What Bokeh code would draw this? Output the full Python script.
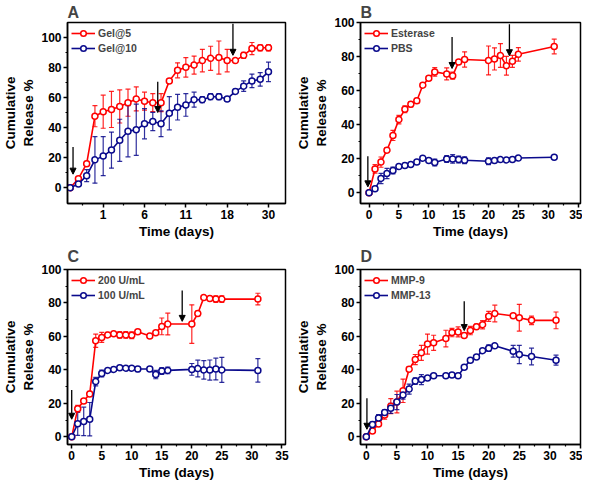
from bokeh.plotting import figure
from bokeh.layouts import gridplot
from bokeh.models import (Range1d, FixedTicker, Whisker, ColumnDataSource, Arrow,
                          NormalHead, TeeHead)
from bokeh.embed import file_html
from bokeh.resources import INLINE

RED = "#ff0000"
NAVY = "#0a0a8c"
FONT = "Liberation Sans"

# ---------------- Panel A (x = sampling index, labelled in days) ----------------
a_x = list(range(25))
a_tick_pos = [4, 9, 14, 19, 24]
a_tick_labels = ["1", "6", "11", "18", "30"]
a_gel5 = [0, 6, 16, 47.5, 50.5, 52, 54, 56.5, 59, 57.5, 56.5, 56.5, 71, 78, 80, 81.5,
          84.5, 86, 86.5, 84.5, 84.5, 88, 92.5, 93, 93]
a_gel5_err = [0, 1, 1.5, 7, 11, 12, 11, 9, 8, 6, 6, 6, 1.5, 5, 6.5, 6, 7.5, 8, 11, 7.5,
              1, 2, 4, 2, 2]
a_gel10 = [0, 2.5, 8, 18.5, 21, 25, 31.5, 37.5, 38.5, 42.5, 44, 42.5, 49.5, 53.5, 55,
           58.5, 58.5, 60.5, 60.5, 59, 64, 67.5, 71, 72, 77]
a_gel10_err = [0, 1, 4, 15.5, 13, 12, 14, 17, 17, 10, 6, 8.5, 11, 8.5, 7.5, 5, 2, 2, 2,
               1, 1.5, 3.5, 4.5, 4.5, 6.5]
a_arrows = [(0.35, 27, 9), (10.6, 70.5, 50), (19.7, 109, 88)]

# ---------------- Panel B ----------------
b_days = [0, 1, 2, 3, 4, 5, 6, 7, 8, 9, 10, 11, 13, 14, 15, 16, 20, 21, 22, 23, 24, 25, 31]
b_esterase = [0, 14, 18, 25, 33.7, 43, 49, 52, 54, 63.2, 67.2, 71, 69.8, 68.8, 76.8, 78.3,
              77.7, 78.6, 80.6, 74.6, 77.2, 81.3, 85.9]
b_esterase_err = [0, 2.5, 3, 1.5, 3, 2.5, 2, 1.5, 1.5, 1, 1, 2.5, 3.5, 2, 1, 4.5, 8.5, 6.5,
                  7, 5.5, 3.5, 4, 4.3]
b_pbs = [0, 2.3, 8.4, 11.3, 13.1, 15.4, 16, 16.6, 18, 20.3, 19, 17.8, 19.8, 19.9, 19.5,
         19.1, 18.5, 19, 19.5, 19.3, 19.5, 20.4, 20.9]
b_pbs_err = [0, 0.5, 3, 3, 2, 1, 1, 1, 1, 1, 1, 2, 2, 2.5, 2, 2, 2, 1, 1, 0.8, 0.8, 0.8, 0.8]
b_arrows = [(-0.2, 21.5, 3.5), (13.9, 91.5, 73), (23.5, 99, 80.5)]

# ---------------- Panel C ----------------
c_days = [0, 1, 2, 3, 4, 5, 6, 7, 8, 9, 10, 11, 13, 14, 15, 16, 20, 21, 22, 23, 24, 25, 31]
c_200 = [0, 16.8, 21.4, 25.6, 57.4, 59.4, 60.9, 61.6, 60.9, 60.9, 60.7, 62.8, 60.3, 62.2,
         66, 67.4, 67.4, 73.7, 83.2, 82.6, 82.3, 82.3, 82.3]
c_200_err = [0, 2, 1, 1.5, 4, 3, 1.5, 1, 2, 2, 2, 1, 1, 1, 5, 6.5, 11.5, 1.5, 1, 1, 2, 2, 3.5]
c_100 = [0, 7.8, 9.2, 10.5, 33, 37.8, 39.7, 40.3, 41.2, 41, 41, 40.5, 40.5, 37.2, 39.3,
         39.7, 40.3, 40.8, 40, 39.9, 40.5, 40, 39.7]
c_100_err = [0, 7, 8.5, 10, 2.5, 2, 1, 1, 0.8, 0.8, 0.8, 1.5, 1, 2.5, 2, 2, 3.5, 5, 5.5, 6,
             6.5, 7.5, 7]
c_arrows = [(0, 28, 10.5), (18.4, 87.5, 69)]

# ---------------- Panel D ----------------
d_days = [0, 1, 2, 3, 4, 5, 6, 7, 8, 9, 10, 11, 13, 14, 15, 16, 17, 18, 19, 20, 21, 24, 25,
          27, 31]
d_mmp9 = [0, 3.5, 7.7, 13, 18.3, 20.8, 27.5, 40.4, 46.2, 50.2, 55.4, 56.2, 58.7, 62.3, 62.7,
          60.6, 63.5, 65.8, 67, 72, 73.7, 72.3, 71.2, 69.6, 69.6]
d_mmp9_err = [0, 1, 1.5, 2.5, 4.5, 6.5, 7, 1.5, 3, 4.5, 6, 4.5, 5, 2.5, 3, 1, 2.5, 1.5, 2.5,
              3, 5, 1, 8, 2.5, 5]
d_mmp13 = [0, 7.3, 11.2, 14.6, 17, 20.8, 25, 28.5, 33.3, 34.2, 35.2, 36.5, 36.5, 36.9, 36.5,
           41.5, 45.8, 47.7, 51.5, 53, 54.4, 51.1, 49.2, 48, 45.8]
d_mmp13_err = [0, 1.5, 2, 1.5, 3, 4.5, 2.5, 3, 2, 3, 1, 1, 1, 1, 1, 1, 1, 1, 1, 2, 1, 3.5,
               5.5, 5, 3]
d_arrows = [(0.1, 23, 4.5), (16, 81, 63.5)]

y_ticks = [0, 20, 40, 60, 80, 100]
y_minor = [10, 30, 50, 70, 90]
day_ticks = [0, 5, 10, 15, 20, 25, 30, 35]
day_minor = [2.5, 7.5, 12.5, 17.5, 22.5, 27.5, 32.5]


def make_panel(letter, fw, fh, xr, yr, borders, title_standoff, series, arrows, xticks,
               xminor, xoverrides=None):
    left, right, top, bottom = borders
    p = figure(frame_width=fw, frame_height=fh, x_range=Range1d(*xr), y_range=Range1d(*yr),
               output_backend="svg", toolbar_location=None,
               min_border_left=left, min_border_right=right,
               min_border_top=top, min_border_bottom=bottom)
    p.grid.visible = False
    p.outline_line_color = "black"
    p.outline_line_width = 1.5
    p.background_fill_color = "white"

    p.title.text = letter
    p.title.text_font = FONT
    p.title.text_font_size = "16px"
    p.title.text_font_style = "bold"
    p.title.align = "left"
    p.title.offset = 0
    p.title.standoff = title_standoff

    for ax in (p.xaxis[0], p.yaxis[0]):
        ax.axis_line_width = 1.5
        ax.major_tick_line_width = 1.5
        ax.minor_tick_line_width = 1.2
        ax.major_tick_out = 4
        ax.major_tick_in = 0
        ax.minor_tick_out = 2
        ax.minor_tick_in = 0
        ax.major_label_text_font = FONT
        ax.major_label_text_font_style = "bold"
        ax.major_label_text_font_size = "12px"
        ax.major_label_text_color = "black"
        ax.axis_label_text_font = FONT
        ax.axis_label_text_font_style = "bold"
        ax.axis_label_text_font_size = "13.5px"
        ax.axis_label_text_color = "black"
        ax.major_label_standoff = 2
        ax.axis_label_standoff = 2

    p.xaxis.ticker = FixedTicker(ticks=xticks, minor_ticks=xminor)
    if xoverrides:
        p.xaxis.major_label_overrides = xoverrides
    p.yaxis.ticker = FixedTicker(ticks=y_ticks, minor_ticks=y_minor)
    p.xaxis.axis_label = "Time (days)"
    p.yaxis.axis_label = "Cumulative\nRelease %"

    for x, y, err, color, label in series:
        src = ColumnDataSource(dict(x=x, y=y,
                                    upper=[v + e for v, e in zip(y, err)],
                                    lower=[v - e for v, e in zip(y, err)]))
        wk = Whisker(source=src, base="x", upper="upper", lower="lower",
                     line_color=color, line_width=1.2, line_alpha=0.85,
                     upper_head=TeeHead(size=5, line_color=color, line_width=1.2, line_alpha=0.85),
                     lower_head=TeeHead(size=5, line_color=color, line_width=1.2, line_alpha=0.85))
        p.add_layout(wk)
        p.line("x", "y", source=src, line_color=color, line_width=1.6, legend_label=label)
        p.scatter("x", "y", source=src, marker="circle", size=6, fill_color="white",
                  line_color=color, line_width=1.5, legend_label=label)

    for ax_x, y0, y1 in arrows:
        p.add_layout(Arrow(x_start=ax_x, y_start=y0, x_end=ax_x, y_end=y1,
                           line_color="black", line_width=1.3,
                           end=NormalHead(size=6, fill_color="black", line_color="black",
                                          line_width=1)))

    lg = p.legend[0]
    lg.location = "top_left"
    lg.background_fill_alpha = 0
    lg.border_line_alpha = 0
    lg.label_text_font = FONT
    lg.label_text_font_style = "bold"
    lg.label_text_font_size = "10.5px"
    lg.glyph_width = 24
    lg.glyph_height = 14
    lg.label_height = 14
    lg.spacing = 1
    lg.padding = 0
    lg.margin = 4
    lg.label_standoff = 3
    return p


pa = make_panel("A", 218, 181, (-0.32, 26.06), (-10.5, 109.8), (50, 8, 10, 30), 3,
                [(a_x, a_gel5, a_gel5_err, RED, "Gel@5"),
                 (a_x, a_gel10, a_gel10_err, NAVY, "Gel@10")],
                a_arrows, a_tick_pos, [1.5, 6.5, 11.5, 16.5, 21.5],
                {pos: lab for pos, lab in zip(a_tick_pos, a_tick_labels)})
pb = make_panel("B", 220, 181, (-1.43, 35.4), (-6.3, 100), (50, 2, 10, 30), 3,
                [(b_days, b_esterase, b_esterase_err, RED, "Esterase"),
                 (b_days, b_pbs, b_pbs_err, NAVY, "PBS")],
                b_arrows, day_ticks, day_minor)
pc = make_panel("C", 218, 175, (-0.7, 35.6), (-4.6, 100), (50, 8, 10, 30), 9,
                [(c_days, c_200, c_200_err, RED, "200 U/mL"),
                 (c_days, c_100, c_100_err, NAVY, "100 U/mL")],
                c_arrows, day_ticks, day_minor)
pd_ = make_panel("D", 220, 175, (-0.95, 35.0), (-4.6, 100), (50, 2, 10, 30), 9,
                 [(d_days, d_mmp9, d_mmp9_err, RED, "MMP-9"),
                  (d_days, d_mmp13, d_mmp13_err, NAVY, "MMP-13")],
                 d_arrows, day_ticks, day_minor)

grid = gridplot([[pa, pb], [pc, pd_]], toolbar_location=None)
open("out.html", "w").write(file_html(grid, INLINE))
